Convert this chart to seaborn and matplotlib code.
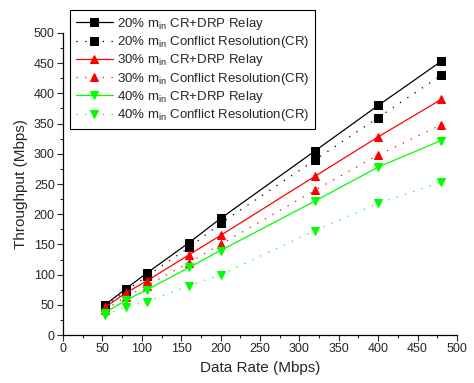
import matplotlib
matplotlib.use("Agg")
import matplotlib.pyplot as plt
import seaborn as sns
import pandas as pd
from matplotlib.ticker import MultipleLocator

sns.set_style("ticks")
plt.rcParams['font.family'] = ['Liberation Sans', 'DejaVu Sans']
plt.rcParams['mathtext.fontset'] = 'custom'
plt.rcParams['mathtext.rm'] = 'Liberation Sans'
plt.rcParams['mathtext.it'] = 'Liberation Sans'

data_rate = [53.3, 80, 106.7, 160, 200, 320, 400, 480]
s20_relay = [50, 77, 103, 153, 193, 305, 380, 453]
s20_cr = [47, 73, 98, 145, 185, 290, 360, 430]
s30_relay = [46, 70, 90, 133, 165, 263, 328, 390]
s30_cr = [42, 63, 82, 120, 150, 240, 298, 348]
s40_relay = [37, 58, 75, 112, 140, 222, 278, 322]
s40_cr = [33, 47, 55, 82, 100, 173, 218, 253]

labels = [
    "20% m$_{\\mathrm{in}}$ CR+DRP Relay",
    "20% m$_{\\mathrm{in}}$ Conflict Resolution(CR)",
    "30% m$_{\\mathrm{in}}$ CR+DRP Relay",
    "30% m$_{\\mathrm{in}}$ Conflict Resolution(CR)",
    "40% m$_{\\mathrm{in}}$ CR+DRP Relay",
    "40% m$_{\\mathrm{in}}$ Conflict Resolution(CR)",
]
series = [s20_relay, s20_cr, s30_relay, s30_cr, s40_relay, s40_cr]
colors = ["black", "black", "red", "red", "#00ff00", "#00ff00"]
styles = ["-", (0, (1, 6)), "-", (0, (1, 6)), "-", (0, (1, 6))]
markers = ["s", "s", "^", "^", "v", "v"]

fig = plt.figure(figsize=(4.74, 3.83), dpi=100)
ax = fig.add_axes([0.133, 0.125, 0.831, 0.789])

for lab, vals, c, ls, m in zip(labels, series, colors, styles, markers):
    df = pd.DataFrame({"x": data_rate, "y": vals})
    sns.lineplot(data=df, x="x", y="y", ax=ax, color=c, linestyle=ls, marker=m,
                 markersize=6, markeredgecolor=c, linewidth=0.9, label=lab)

ax.set_xlim(0, 500)
ax.set_ylim(0, 500)
ax.xaxis.set_major_locator(MultipleLocator(50))
ax.xaxis.set_minor_locator(MultipleLocator(25))
ax.yaxis.set_major_locator(MultipleLocator(50))
ax.yaxis.set_minor_locator(MultipleLocator(25))
ax.tick_params(axis='both', which='major', direction='out', length=4, width=0.8, labelsize=9, pad=2)
ax.tick_params(axis='both', which='minor', direction='out', length=2.5, width=0.8)
for sp in ['top', 'right']:
    ax.spines[sp].set_visible(False)
for sp in ['left', 'bottom']:
    ax.spines[sp].set_linewidth(0.9)
    ax.spines[sp].set_color('black')

ax.set_xlabel("Data Rate (Mbps)", fontsize=11)
ax.set_ylabel("Throughput (Mbps)", fontsize=11)

leg = ax.legend(loc="upper left", bbox_to_anchor=(70/474, 1 - 10/383), bbox_transform=fig.transFigure,
                fontsize=9.5, frameon=True, fancybox=False, edgecolor='black',
                handlelength=2.8, handletextpad=0.3, labelspacing=0.17, borderpad=0.45,
                borderaxespad=0, framealpha=1)
leg.get_frame().set_linewidth(0.8)

fig.savefig("out.png", dpi=100)
